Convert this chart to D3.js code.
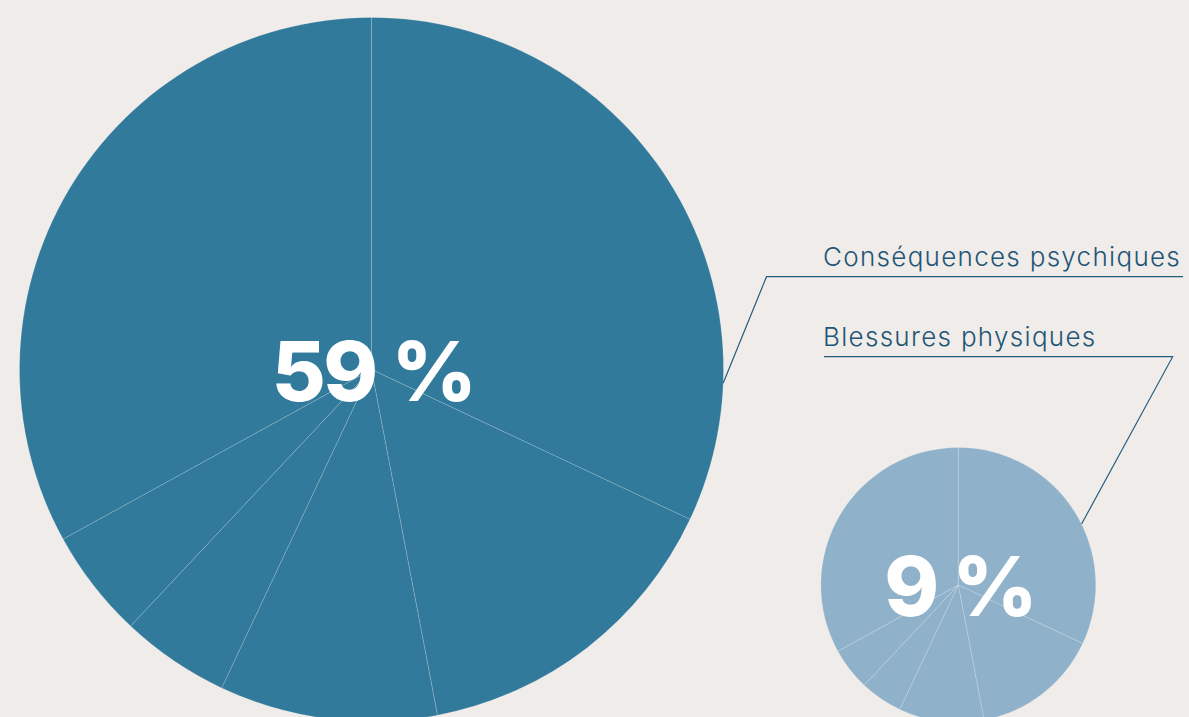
<!DOCTYPE html>
<html><head><meta charset="utf-8">
<script src="https://cdn.jsdelivr.net/npm/d3@7"></script>
<style>
html,body{margin:0;padding:0;background:#f0ece9;}
svg{display:block;}
</style></head>
<body>
<svg id="chart" width="1189" height="717"></svg>
<script>
// ---- data ----
const groups = ["Conséquences psychiques", "Blessures physiques"];
const shares = [59, 9];
const shareLabels = ["59 %", "9 %"];
const sliceValues = [32, 15, 10, 5, 5, 33];

// ---- layout ----
const W = 1189, H = 717;
const svg = d3.select("#chart");
const colors = ["#317a9b", "#8fb2ca"];
const centers = [[371.5, 369.5], [958.3, 585]];
const r = d3.scaleSqrt().domain([0, 59]).range([0, 352]);
const pie = d3.pie().sort(null).value(d => d);
const arcs = pie(sliceValues);

// leader line config: anchor angle on pie (deg, clockwise from top), elbow, underline end, label pos
const leaders = [
  {ang: 92.2, elbow: [766.5, 276.7], end: 1183, label: [823, 266]},
  {ang: 63.7, elbow: [1172.7, 356.7], end: 824, label: [823, 345.5]}
];

groups.forEach((g, i) => {
  const [cx, cy] = centers[i];
  const R = r(shares[i]);
  const gg = svg.append("g").attr("transform", `translate(${cx},${cy})`);
  const arc = d3.arc().innerRadius(0).outerRadius(R);
  gg.selectAll("path").data(arcs).join("path")
    .attr("d", arc)
    .attr("fill", colors[i])
    .attr("stroke", "rgba(255,255,255,0.28)")
    .attr("stroke-width", 0.6);
  gg.append("text")
    .attr("x", 1.5).attr("y", 31)
    .attr("text-anchor", "middle")
    .attr("font-family", "Inter, 'Open Sans', sans-serif")
    .attr("font-weight", 800)
    .attr("font-size", 83)
    .attr("letter-spacing", "-2.5px")
    .attr("fill", "#ffffff")
    .text(shareLabels[i]);

  const L = leaders[i];
  const a = L.ang * Math.PI / 180;
  const px = cx + R * Math.sin(a), py = cy - R * Math.cos(a);
  const line = d3.line();
  svg.append("path")
    .attr("d", line([[px, py], L.elbow, [L.end, L.elbow[1]]]))
    .attr("fill", "none")
    .attr("stroke", "#255d80")
    .attr("stroke-width", 1.2);
  svg.append("text")
    .attr("x", L.label[0]).attr("y", L.label[1])
    .attr("font-family", "Inter, 'Open Sans', sans-serif")
    .attr("font-weight", 300)
    .attr("font-size", 26)
    .attr("letter-spacing", "1.3px")
    .attr("fill", "#1f5677")
    .text(g);
});
</script>
</body></html>
